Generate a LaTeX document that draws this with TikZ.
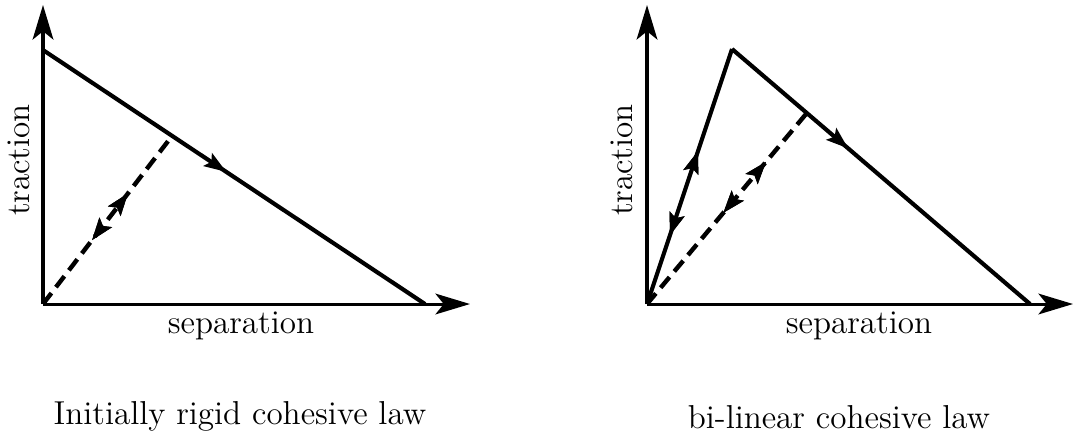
\documentclass[tikz,border=0pt]{standalone}
\usepackage{amsmath,amssymb}
\usetikzlibrary{arrows.meta,decorations.markings}

\begin{document}
\begin{tikzpicture}[
      x=0.362pt, y=-0.362pt,
      axis/.style={line width=1.1pt, -{Stealth[length=12.5pt,width=7.5pt,inset=3pt]}},
      law/.style={line width=1.5pt},
      unload/.style={line width=1.6pt, dash pattern=on 5pt off 2.7pt},
      midarrow/.style={postaction={decorate}, decoration={markings,
          mark=at position #1 with {\arrow{Stealth[length=8pt,width=5.5pt,inset=1.5pt]}}}},
      midback/.style={postaction={decorate}, decoration={markings,
          mark=at position #1 with {\arrowreversed{Stealth[length=8pt,width=5.5pt,inset=1.5pt]}}}},
      lbl/.style={font=\large},
    ]
    \useasboundingbox (0,0) rectangle (1073,441);
    % left: initially rigid law
    \coordinate (o1) at (43,304);
    \coordinate (t1) at (43,50);
    \coordinate (e1) at (425,304);
    \coordinate (u1) at (172,136);
    \draw[axis] (o1) -- (43,5);
    \draw[axis] (o1) -- (470,304);
    \draw[law, midarrow=0.48] (t1) -- (e1);
    \draw[unload, midarrow=0.66, midback=0.38] (o1) -- (u1);
    \node[lbl, rotate=90] (trac1) at (19,160) {traction};
    \node[lbl] (sep1) at (241,326) {separation};
    \node[lbl] (cap1) at (240,416) {Initially rigid cohesive law};
    % right: bi-linear law
    \coordinate (o2) at (647,304);
    \coordinate (p2) at (732,49);
    \coordinate (e2) at (1030,304);
    \coordinate (u2) at (806,114);
    \draw[axis] (o2) -- (647,5);
    \draw[axis] (o2) -- (1073,304);
    \draw[law, midarrow=0.6, midback=0.27] (o2) -- (p2);
    \draw[law, midarrow=0.39] (p2) -- (e2);
    \draw[unload, midarrow=0.75, midback=0.48] (o2) -- (u2);
    \node[lbl, rotate=90] (trac2) at (622,160) {traction};
    \node[lbl] (sep2) at (859,326) {separation};
    \node[lbl] (cap2) at (839,417) {bi-linear cohesive law};
  \end{tikzpicture}
\end{document}
